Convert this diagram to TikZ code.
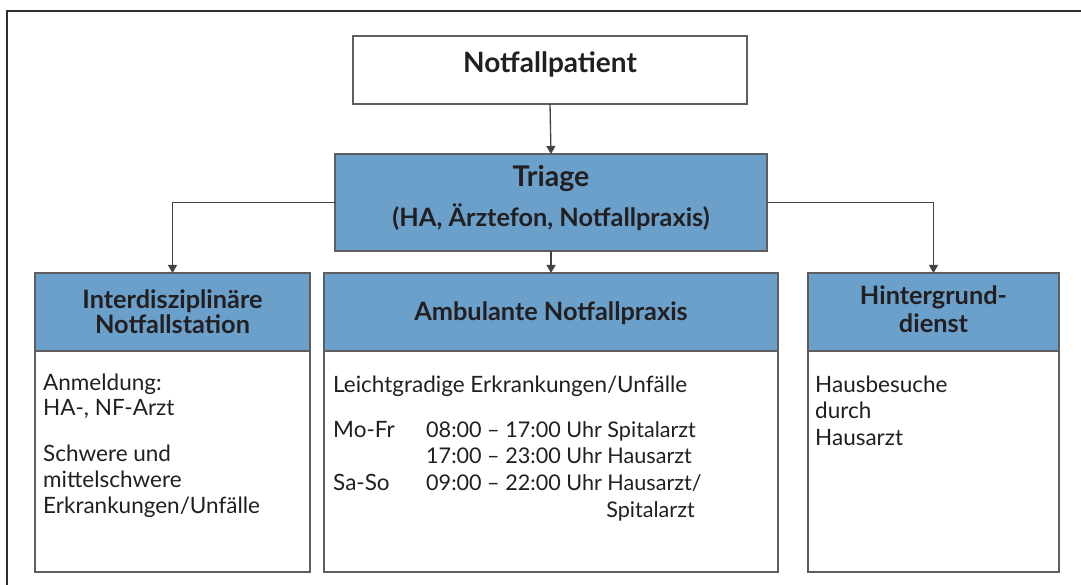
\documentclass[tikz,border=0pt]{standalone}
\usepackage{fontspec}
\setmainfont{Lato}
\usetikzlibrary{arrows.meta}
\definecolor{boxblue}{HTML}{6AA0CA}
\definecolor{ink}{HTML}{231F20}
\definecolor{edgegray}{HTML}{5E5E60}
\definecolor{framegray}{HTML}{2E2E2E}
\begin{document}
\begin{tikzpicture}[x=1pt,y=-1pt,
  box/.style={draw=edgegray, line width=1.8pt, inner sep=0pt, outer sep=0pt, anchor=center, text=ink},
  bluebox/.style={box, fill=boxblue},
  whitebox/.style={box, fill=white},
  conn/.style={draw=framegray!90, line width=1.3pt, -{Triangle[width=9pt,length=8pt]}},
  head/.style={font=\bfseries\fontsize{25.3}{29}\selectfont, text=ink, inner sep=0pt, anchor=base},
  body/.style={font=\fontsize{22.5}{26}\selectfont, text=ink, inner sep=0pt, anchor=base west},
  timeline/.style={body, font=\fontsize{21.6}{26}\selectfont},
]
\useasboundingbox (0,0) rectangle (1081,585);
\fill[white] (0,0) rectangle (1081,585);
% outer frame (runs off the right and bottom edges)
\draw[framegray, line width=2pt] (7,585) -- (7,11) -- (1081,11);

% boxes
\node[whitebox, minimum width=394pt, minimum height=68pt] (pat) at (550,70) {};
\node[bluebox, minimum width=432pt, minimum height=97pt] (tri) at (551,202.5) {};
\node[bluebox, minimum width=275pt, minimum height=78pt] (h1) at (172.5,312) {};
\node[bluebox, minimum width=454pt, minimum height=78pt] (h2) at (551,312) {};
\node[bluebox, minimum width=251pt, minimum height=78pt] (h3) at (933.5,312) {};
\node[whitebox, minimum width=275pt, minimum height=221pt] (b1) at (172.5,461.5) {};
\node[whitebox, minimum width=454pt, minimum height=221pt] (b2) at (551,461.5) {};
\node[whitebox, minimum width=251pt, minimum height=221pt] (b3) at (933.5,461.5) {};

% connectors
\draw[conn] (pat.south) -- (tri.north);
\draw[conn] (tri.west) -| (h1.north);
\draw[conn] (tri.south) -- (h2.north);
\draw[conn] (tri.east) -| (h3.north);

% titles
\node[head, font=\bfseries\fontsize{28}{32}\selectfont] (patT) at (550,73) {Notfallpatient};
\node[head, font=\bfseries\fontsize{28.5}{32}\selectfont] (triT1) at (551,187) {Triage};
\node[head] (triT2) at (551,227) {(HA, Ärztefon, Notfallpraxis)};
\node[head] (h1a) at (172.5,308) {Interdisziplinäre};
\node[head] (h1b) at (172.5,333) {Notfallstation};
\node[head] (h2a) at (551,320) {Ambulante Notfallpraxis};
\node[head] (h3a) at (933.5,305) {Hintergrund-};
\node[head] (h3b) at (933.5,332) {dienst};

% left column body
\node[body] (l1) at (43,390) {Anmeldung:};
\node[body] (l2) at (43,415) {HA-, NF-Arzt};
\node[body] (l3) at (43,461) {Schwere und};
\node[body] (l4) at (43,487) {mittelschwere};
\node[body] (l5) at (43,513) {Erkrankungen/Unfälle};

% middle column body
\node[body] (m1) at (333,392) {Leichtgradige Erkrankungen/Unfälle};
\node[body] (m2) at (333,437) {Mo-Fr};
\node[timeline] (m3) at (426,437) {08:00 -- 17:00 Uhr Spitalarzt};
\node[timeline] (m4) at (426,463) {17:00 -- 23:00 Uhr Hausarzt};
\node[body] (m5) at (333,490) {Sa-So};
\node[timeline] (m6) at (426,490) {09:00 -- 22:00 Uhr Hausarzt/};
\node[timeline, anchor=base east] (m7) at (695,517) {Spitalarzt};

% right column body
\node[body] (r1) at (815,392) {Hausbesuche};
\node[body] (r2) at (815,418) {durch};
\node[body] (r3) at (815,445) {Hausarzt};
\end{tikzpicture}
\end{document}
